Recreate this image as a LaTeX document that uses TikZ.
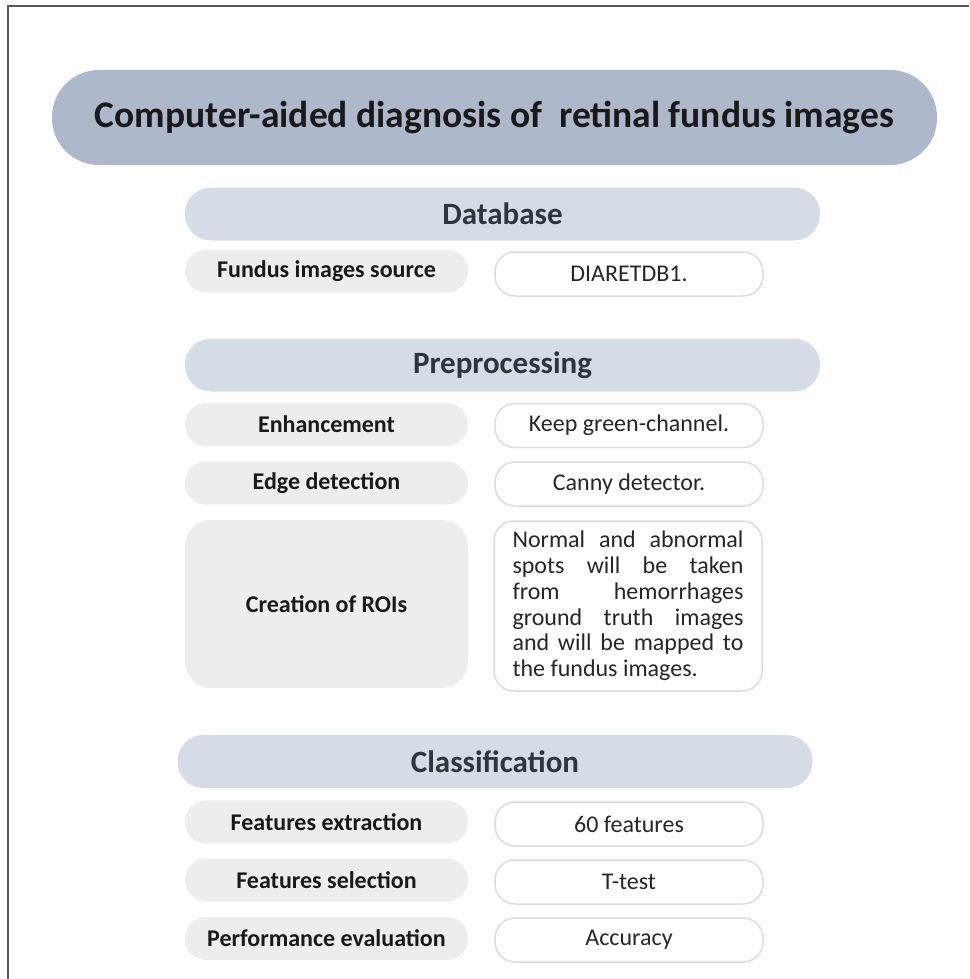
\documentclass[tikz,border=0pt]{standalone}
\usepackage{fontspec}
\setmainfont{Carlito}
\usetikzlibrary{calc}
\definecolor{titlefill}{HTML}{ADB8CA}
\definecolor{headfill}{HTML}{D6DCE5}
\definecolor{labelfill}{HTML}{EDEDED}
\definecolor{valueline}{HTML}{DCDCDC}
\definecolor{headtext}{HTML}{2E3440}
\definecolor{framegray}{HTML}{5A5A5A}
\tikzset{
	titlebox/.style={fill=titlefill, rounded corners=47pt, inner sep=0pt,
		minimum width=885pt, minimum height=95pt,
		font=\fontsize{37.5}{42}\selectfont\bfseries, text=black!90},
	headbox/.style={fill=headfill, rounded corners=26pt, inner sep=0pt,
		minimum width=635pt, minimum height=53pt,
		font=\fontsize{31}{36}\selectfont\bfseries, text=headtext},
	labelbox/.style={fill=labelfill, rounded corners=21pt, inner sep=0pt,
		minimum width=283pt, minimum height=43pt,
		font=\fontsize{24}{28}\selectfont\bfseries, text=black!90},
	valuebox/.style={draw=valueline, line width=1.5pt, fill=white,
		rounded corners=20pt, inner sep=0pt,
		minimum width=268pt, minimum height=44pt,
		font=\fontsize{24}{28}\selectfont, text=black!85}
}
\begin{document}
\begin{tikzpicture}[x=1pt, y=-1pt]
	% page: 969 x 979, 1pt per pixel
	\useasboundingbox (0,0) rectangle (969,979);
	% frame, left and top only
	\draw[framegray, line width=2pt] (8,979) -- (8,6) -- (969,6);
	% title
	\node[titlebox] (title) at (494.5,117.5) {Computer-aided diagnosis of~~retinal fundus images};
	% database
	\node[headbox] (database) at (502.5,214) {Database};
	\node[labelbox] (source) at (326.5,271) {Fundus images source};
	\node[valuebox] (sourceval) at (629,274) {DIARETDB1.};
	% preprocessing
	\node[headbox] (prep) at (502.5,365) {Preprocessing};
	\node[labelbox] (enh) at (326.5,424.5) {Enhancement};
	\node[valuebox] (enhval) at (629,425.5) {Keep green-channel.};
	\node[labelbox] (edge) at (326.5,483) {Edge detection};
	\node[valuebox] (edgeval) at (629,484) {Canny detector.};
	\node[labelbox, minimum height=168pt, rounded corners=26pt] (roi) at (326.5,604) {Creation of ROIs};
	\node[valuebox, minimum height=170pt, text width=231pt, align=justify,
		font=\fontsize{24}{25.8}\selectfont] (roival) at (628,606)
		{Normal and abnormal\linebreak spots will be taken\linebreak from hemorrhages\linebreak
		ground truth images\linebreak and will be mapped to\linebreak the fundus images.};
	% classification
	\node[headbox] (classif) at (495,761.5) {Classification};
	\node[labelbox] (fext) at (326.5,822) {Features extraction};
	\node[valuebox] (fextval) at (629,824) {60 features};
	\node[labelbox] (fsel) at (326.5,880) {Features selection};
	\node[valuebox] (fselval) at (629,882) {T-test};
	\node[labelbox] (perf) at (326.5,938.5) {Performance evaluation};
	\node[valuebox] (perfval) at (629,940) {Accuracy};
\end{tikzpicture}
\end{document}
